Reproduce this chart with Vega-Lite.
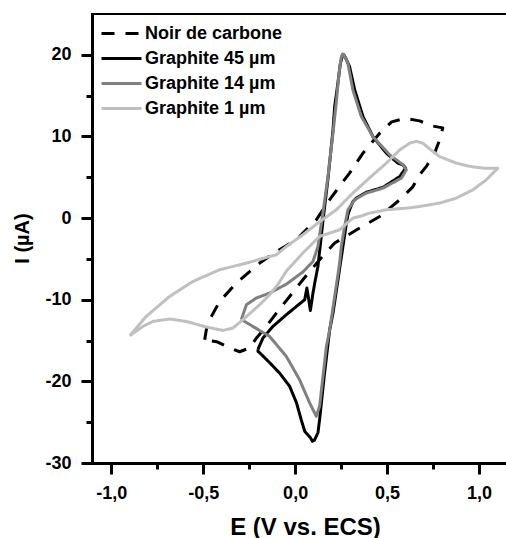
{
  "$schema": "https://vega.github.io/schema/vega-lite/v6.json",
  "width": 414,
  "height": 449,
  "autosize": {"type": "none"},
  "padding": {"left": 92, "top": 14, "right": 0, "bottom": 75},
  "background": "white",
  "config": {
    "view": {"stroke": null, "fill": null},
    "axis": {
      "grid": false,
      "zindex": 1,
      "domainColor": "black",
      "domainWidth": 3,
      "domainCap": "square",
      "tickColor": "black",
      "tickWidth": 3,
      "labelColor": "black",
      "labelFont": "Liberation Sans",
      "labelFontWeight": "bold",
      "labelFontSize": 18,
      "titleFont": "Liberation Sans",
      "titleFontWeight": "bold",
      "titleColor": "black",
      "labelFlush": false,
      "labelOverlap": false,
      "labelBound": false
    },
    "legend": {
      "labelFont": "Liberation Sans",
      "labelFontWeight": "bold",
      "labelFontSize": 18,
      "labelColor": "black",
      "labelLimit": 300
    }
  },
  "layer": [
    {
      "data": {
        "values": [
          {"s": "Noir de carbone", "i": 0, "E": -0.492, "I": -14.9},
          {"s": "Noir de carbone", "i": 1, "E": -0.483, "I": -13.67},
          {"s": "Noir de carbone", "i": 2, "E": -0.465, "I": -12.45},
          {"s": "Noir de carbone", "i": 3, "E": -0.411, "I": -10.21},
          {"s": "Noir de carbone", "i": 4, "E": -0.32, "I": -7.96},
          {"s": "Noir de carbone", "i": 5, "E": -0.193, "I": -5.51},
          {"s": "Noir de carbone", "i": 6, "E": -0.102, "I": -4.09},
          {"s": "Noir de carbone", "i": 7, "E": 0.007, "I": -2.66},
          {"s": "Noir de carbone", "i": 8, "E": 0.115, "I": -0.21},
          {"s": "Noir de carbone", "i": 9, "E": 0.199, "I": 2.61},
          {"s": "Noir de carbone", "i": 10, "E": 0.296, "I": 5.51},
          {"s": "Noir de carbone", "i": 11, "E": 0.369, "I": 7.96},
          {"s": "Noir de carbone", "i": 12, "E": 0.46, "I": 10.4},
          {"s": "Noir de carbone", "i": 13, "E": 0.525, "I": 11.79},
          {"s": "Noir de carbone", "i": 14, "E": 0.596, "I": 12.22},
          {"s": "Noir de carbone", "i": 15, "E": 0.677, "I": 11.91},
          {"s": "Noir de carbone", "i": 16, "E": 0.743, "I": 11.3},
          {"s": "Noir de carbone", "i": 17, "E": 0.803, "I": 11.05},
          {"s": "Noir de carbone", "i": 18, "E": 0.786, "I": 9.58},
          {"s": "Noir de carbone", "i": 19, "E": 0.759, "I": 7.99},
          {"s": "Noir de carbone", "i": 20, "E": 0.716, "I": 6.4},
          {"s": "Noir de carbone", "i": 21, "E": 0.677, "I": 5.3},
          {"s": "Noir de carbone", "i": 22, "E": 0.64, "I": 3.83},
          {"s": "Noir de carbone", "i": 23, "E": 0.569, "I": 2.24},
          {"s": "Noir de carbone", "i": 24, "E": 0.46, "I": 0.2},
          {"s": "Noir de carbone", "i": 25, "E": 0.335, "I": -1.43},
          {"s": "Noir de carbone", "i": 26, "E": 0.215, "I": -3.06},
          {"s": "Noir de carbone", "i": 27, "E": 0.133, "I": -5.1},
          {"s": "Noir de carbone", "i": 28, "E": 0.042, "I": -7.55},
          {"s": "Noir de carbone", "i": 29, "E": -0.03, "I": -9.6},
          {"s": "Noir de carbone", "i": 30, "E": -0.102, "I": -11.63},
          {"s": "Noir de carbone", "i": 31, "E": -0.157, "I": -13.27},
          {"s": "Noir de carbone", "i": 32, "E": -0.209, "I": -14.65},
          {"s": "Noir de carbone", "i": 33, "E": -0.248, "I": -15.91},
          {"s": "Noir de carbone", "i": 34, "E": -0.302, "I": -16.37},
          {"s": "Noir de carbone", "i": 35, "E": -0.356, "I": -15.91},
          {"s": "Noir de carbone", "i": 36, "E": -0.427, "I": -15.14},
          {"s": "Noir de carbone", "i": 37, "E": -0.492, "I": -14.9},

          {"s": "Graphite 45 µm", "i": 0, "E": -0.202, "I": -16.06},
          {"s": "Graphite 45 µm", "i": 1, "E": -0.175, "I": -14.69},
          {"s": "Graphite 45 µm", "i": 2, "E": -0.121, "I": -13.27},
          {"s": "Graphite 45 µm", "i": 3, "E": -0.048, "I": -11.84},
          {"s": "Graphite 45 µm", "i": 4, "E": 0.007, "I": -10.82},
          {"s": "Graphite 45 µm", "i": 5, "E": 0.052, "I": -10.0},
          {"s": "Graphite 45 µm", "i": 6, "E": 0.064, "I": -8.57},
          {"s": "Graphite 45 µm", "i": 7, "E": 0.083, "I": -11.31},
          {"s": "Graphite 45 µm", "i": 8, "E": 0.097, "I": -9.18},
          {"s": "Graphite 45 µm", "i": 9, "E": 0.11, "I": -7.55},
          {"s": "Graphite 45 µm", "i": 10, "E": 0.124, "I": -5.92},
          {"s": "Graphite 45 µm", "i": 11, "E": 0.151, "I": -0.4},
          {"s": "Graphite 45 µm", "i": 12, "E": 0.178, "I": 4.69},
          {"s": "Graphite 45 µm", "i": 13, "E": 0.206, "I": 10.81},
          {"s": "Graphite 45 µm", "i": 14, "E": 0.215, "I": 13.66},
          {"s": "Graphite 45 µm", "i": 15, "E": 0.233, "I": 16.6},
          {"s": "Graphite 45 µm", "i": 16, "E": 0.245, "I": 18.8},
          {"s": "Graphite 45 µm", "i": 17, "E": 0.256, "I": 19.85},
          {"s": "Graphite 45 µm", "i": 18, "E": 0.265, "I": 20.0},
          {"s": "Graphite 45 µm", "i": 19, "E": 0.275, "I": 19.6},
          {"s": "Graphite 45 µm", "i": 20, "E": 0.296, "I": 18.56},
          {"s": "Graphite 45 µm", "i": 21, "E": 0.324, "I": 15.7},
          {"s": "Graphite 45 µm", "i": 22, "E": 0.369, "I": 12.44},
          {"s": "Graphite 45 µm", "i": 23, "E": 0.405, "I": 10.81},
          {"s": "Graphite 45 µm", "i": 24, "E": 0.423, "I": 9.99},
          {"s": "Graphite 45 µm", "i": 25, "E": 0.496, "I": 7.96},
          {"s": "Graphite 45 µm", "i": 26, "E": 0.559, "I": 6.73},
          {"s": "Graphite 45 µm", "i": 27, "E": 0.587, "I": 6.5},
          {"s": "Graphite 45 µm", "i": 28, "E": 0.601, "I": 6.12},
          {"s": "Graphite 45 µm", "i": 29, "E": 0.569, "I": 5.09},
          {"s": "Graphite 45 µm", "i": 30, "E": 0.478, "I": 3.77},
          {"s": "Graphite 45 µm", "i": 31, "E": 0.387, "I": 3.16},
          {"s": "Graphite 45 µm", "i": 32, "E": 0.333, "I": 2.45},
          {"s": "Graphite 45 µm", "i": 33, "E": 0.314, "I": 2.0},
          {"s": "Graphite 45 µm", "i": 34, "E": 0.296, "I": 1.02},
          {"s": "Graphite 45 µm", "i": 35, "E": 0.287, "I": 0.4},
          {"s": "Graphite 45 µm", "i": 36, "E": 0.279, "I": -0.61},
          {"s": "Graphite 45 µm", "i": 37, "E": 0.26, "I": -3.48},
          {"s": "Graphite 45 µm", "i": 38, "E": 0.233, "I": -7.55},
          {"s": "Graphite 45 µm", "i": 39, "E": 0.206, "I": -11.63},
          {"s": "Graphite 45 µm", "i": 40, "E": 0.188, "I": -13.67},
          {"s": "Graphite 45 µm", "i": 41, "E": 0.16, "I": -19.0},
          {"s": "Graphite 45 µm", "i": 42, "E": 0.133, "I": -24.69},
          {"s": "Graphite 45 µm", "i": 43, "E": 0.124, "I": -26.3},
          {"s": "Graphite 45 µm", "i": 44, "E": 0.105, "I": -27.2},
          {"s": "Graphite 45 µm", "i": 45, "E": 0.094, "I": -27.34},
          {"s": "Graphite 45 µm", "i": 46, "E": 0.083, "I": -26.9},
          {"s": "Graphite 45 µm", "i": 47, "E": 0.052, "I": -26.1},
          {"s": "Graphite 45 µm", "i": 48, "E": 0.033, "I": -24.7},
          {"s": "Graphite 45 µm", "i": 49, "E": 0.007, "I": -22.6},
          {"s": "Graphite 45 µm", "i": 50, "E": -0.03, "I": -20.6},
          {"s": "Graphite 45 µm", "i": 51, "E": -0.084, "I": -19.0},
          {"s": "Graphite 45 µm", "i": 52, "E": -0.139, "I": -17.7},
          {"s": "Graphite 45 µm", "i": 53, "E": -0.193, "I": -16.5},
          {"s": "Graphite 45 µm", "i": 54, "E": -0.202, "I": -16.33},
          {"s": "Graphite 45 µm", "i": 55, "E": -0.202, "I": -16.06},

          {"s": "Graphite 14 µm", "i": 0, "E": -0.293, "I": -12.45},
          {"s": "Graphite 14 µm", "i": 1, "E": -0.265, "I": -10.61},
          {"s": "Graphite 14 µm", "i": 2, "E": -0.211, "I": -9.79},
          {"s": "Graphite 14 µm", "i": 3, "E": -0.139, "I": -9.18},
          {"s": "Graphite 14 µm", "i": 4, "E": -0.048, "I": -8.1},
          {"s": "Graphite 14 µm", "i": 5, "E": 0.042, "I": -6.6},
          {"s": "Graphite 14 µm", "i": 6, "E": 0.097, "I": -5.31},
          {"s": "Graphite 14 µm", "i": 7, "E": 0.124, "I": -3.48},
          {"s": "Graphite 14 µm", "i": 8, "E": 0.151, "I": 0.61},
          {"s": "Graphite 14 µm", "i": 9, "E": 0.178, "I": 5.0},
          {"s": "Graphite 14 µm", "i": 10, "E": 0.206, "I": 10.4},
          {"s": "Graphite 14 µm", "i": 11, "E": 0.224, "I": 14.2},
          {"s": "Graphite 14 µm", "i": 12, "E": 0.238, "I": 17.6},
          {"s": "Graphite 14 µm", "i": 13, "E": 0.25, "I": 19.6},
          {"s": "Graphite 14 µm", "i": 14, "E": 0.258, "I": 20.1},
          {"s": "Graphite 14 µm", "i": 15, "E": 0.268, "I": 19.9},
          {"s": "Graphite 14 µm", "i": 16, "E": 0.287, "I": 18.97},
          {"s": "Graphite 14 µm", "i": 17, "E": 0.314, "I": 15.7},
          {"s": "Graphite 14 µm", "i": 18, "E": 0.36, "I": 12.44},
          {"s": "Graphite 14 µm", "i": 19, "E": 0.423, "I": 9.99},
          {"s": "Graphite 14 µm", "i": 20, "E": 0.514, "I": 7.75},
          {"s": "Graphite 14 µm", "i": 21, "E": 0.587, "I": 6.52},
          {"s": "Graphite 14 µm", "i": 22, "E": 0.605, "I": 5.91},
          {"s": "Graphite 14 µm", "i": 23, "E": 0.578, "I": 4.9},
          {"s": "Graphite 14 µm", "i": 24, "E": 0.478, "I": 3.67},
          {"s": "Graphite 14 µm", "i": 25, "E": 0.387, "I": 3.06},
          {"s": "Graphite 14 µm", "i": 26, "E": 0.324, "I": 2.24},
          {"s": "Graphite 14 µm", "i": 27, "E": 0.287, "I": 1.02},
          {"s": "Graphite 14 µm", "i": 28, "E": 0.269, "I": -1.03},
          {"s": "Graphite 14 µm", "i": 29, "E": 0.251, "I": -3.48},
          {"s": "Graphite 14 µm", "i": 30, "E": 0.242, "I": -5.51},
          {"s": "Graphite 14 µm", "i": 31, "E": 0.215, "I": -9.6},
          {"s": "Graphite 14 µm", "i": 32, "E": 0.188, "I": -13.67},
          {"s": "Graphite 14 µm", "i": 33, "E": 0.17, "I": -15.72},
          {"s": "Graphite 14 µm", "i": 34, "E": 0.133, "I": -23.06},
          {"s": "Graphite 14 µm", "i": 35, "E": 0.115, "I": -24.28},
          {"s": "Graphite 14 µm", "i": 36, "E": 0.1, "I": -23.6},
          {"s": "Graphite 14 µm", "i": 37, "E": 0.079, "I": -22.64},
          {"s": "Graphite 14 µm", "i": 38, "E": 0.024, "I": -19.79},
          {"s": "Graphite 14 µm", "i": 39, "E": -0.048, "I": -16.94},
          {"s": "Graphite 14 µm", "i": 40, "E": -0.139, "I": -14.49},
          {"s": "Graphite 14 µm", "i": 41, "E": -0.23, "I": -13.27},
          {"s": "Graphite 14 µm", "i": 42, "E": -0.275, "I": -12.66},
          {"s": "Graphite 14 µm", "i": 43, "E": -0.293, "I": -12.45},

          {"s": "Graphite 1 µm", "i": 0, "E": -0.9, "I": -14.41},
          {"s": "Graphite 1 µm", "i": 1, "E": -0.81, "I": -12.04},
          {"s": "Graphite 1 µm", "i": 2, "E": -0.683, "I": -9.6},
          {"s": "Graphite 1 µm", "i": 3, "E": -0.556, "I": -7.76},
          {"s": "Graphite 1 µm", "i": 4, "E": -0.411, "I": -6.33},
          {"s": "Graphite 1 µm", "i": 5, "E": -0.265, "I": -5.51},
          {"s": "Graphite 1 µm", "i": 6, "E": -0.102, "I": -4.49},
          {"s": "Graphite 1 µm", "i": 7, "E": -0.048, "I": -3.48},
          {"s": "Graphite 1 µm", "i": 8, "E": 0.042, "I": -2.04},
          {"s": "Graphite 1 µm", "i": 9, "E": 0.133, "I": -0.45},
          {"s": "Graphite 1 µm", "i": 10, "E": 0.224, "I": 1.02},
          {"s": "Graphite 1 µm", "i": 11, "E": 0.314, "I": 3.06},
          {"s": "Graphite 1 µm", "i": 12, "E": 0.405, "I": 4.93},
          {"s": "Graphite 1 µm", "i": 13, "E": 0.496, "I": 6.73},
          {"s": "Graphite 1 µm", "i": 14, "E": 0.569, "I": 8.36},
          {"s": "Graphite 1 µm", "i": 15, "E": 0.623, "I": 9.18},
          {"s": "Graphite 1 µm", "i": 16, "E": 0.659, "I": 9.4},
          {"s": "Graphite 1 µm", "i": 17, "E": 0.695, "I": 9.18},
          {"s": "Graphite 1 µm", "i": 18, "E": 0.732, "I": 8.48},
          {"s": "Graphite 1 µm", "i": 19, "E": 0.786, "I": 7.54},
          {"s": "Graphite 1 µm", "i": 20, "E": 0.877, "I": 6.73},
          {"s": "Graphite 1 µm", "i": 21, "E": 0.949, "I": 6.34},
          {"s": "Graphite 1 µm", "i": 22, "E": 1.022, "I": 6.12},
          {"s": "Graphite 1 µm", "i": 23, "E": 1.103, "I": 6.12},
          {"s": "Graphite 1 µm", "i": 24, "E": 1.076, "I": 5.51},
          {"s": "Graphite 1 µm", "i": 25, "E": 1.04, "I": 4.69},
          {"s": "Graphite 1 µm", "i": 26, "E": 0.967, "I": 3.46},
          {"s": "Graphite 1 µm", "i": 27, "E": 0.877, "I": 2.45},
          {"s": "Graphite 1 µm", "i": 28, "E": 0.786, "I": 1.84},
          {"s": "Graphite 1 µm", "i": 29, "E": 0.677, "I": 1.42},
          {"s": "Graphite 1 µm", "i": 30, "E": 0.605, "I": 1.22},
          {"s": "Graphite 1 µm", "i": 31, "E": 0.496, "I": 1.02},
          {"s": "Graphite 1 µm", "i": 32, "E": 0.405, "I": 0.61},
          {"s": "Graphite 1 µm", "i": 33, "E": 0.351, "I": 0.2},
          {"s": "Graphite 1 µm", "i": 34, "E": 0.314, "I": 0.0},
          {"s": "Graphite 1 µm", "i": 35, "E": 0.242, "I": -1.43},
          {"s": "Graphite 1 µm", "i": 36, "E": 0.133, "I": -2.25},
          {"s": "Graphite 1 µm", "i": 37, "E": 0.042, "I": -4.28},
          {"s": "Graphite 1 µm", "i": 38, "E": -0.048, "I": -6.5},
          {"s": "Graphite 1 µm", "i": 39, "E": -0.09, "I": -8.0},
          {"s": "Graphite 1 µm", "i": 40, "E": -0.139, "I": -9.4},
          {"s": "Graphite 1 µm", "i": 41, "E": -0.193, "I": -10.61},
          {"s": "Graphite 1 µm", "i": 42, "E": -0.284, "I": -12.45},
          {"s": "Graphite 1 µm", "i": 43, "E": -0.338, "I": -13.46},
          {"s": "Graphite 1 µm", "i": 44, "E": -0.393, "I": -13.76},
          {"s": "Graphite 1 µm", "i": 45, "E": -0.483, "I": -13.34},
          {"s": "Graphite 1 µm", "i": 46, "E": -0.592, "I": -12.66},
          {"s": "Graphite 1 µm", "i": 47, "E": -0.683, "I": -12.36},
          {"s": "Graphite 1 µm", "i": 48, "E": -0.774, "I": -12.66},
          {"s": "Graphite 1 µm", "i": 49, "E": -0.828, "I": -13.27},
          {"s": "Graphite 1 µm", "i": 50, "E": -0.9, "I": -14.41}
        ]
      },
      "mark": {"type": "line", "strokeWidth": 3, "strokeJoin": "round", "strokeCap": "butt"},
      "encoding": {
        "x": {
          "field": "E",
          "type": "quantitative",
          "scale": {"domain": [-1.105, 1.147], "nice": false, "zero": false},
          "axis": {
            "title": "E (V vs. ECS)",
            "values": [-1, -0.75, -0.5, -0.25, 0, 0.25, 0.5, 0.75, 1],
            "labelExpr": "abs(datum.value*2 - round(datum.value*2)) < 0.001 ? (datum.value < 0 ? '-' : '') + replace(format(abs(datum.value), '.1f'), '.', ',') : ''",
            "tickSize": {"condition": {"test": "abs(datum.value*2 - round(datum.value*2)) < 0.001", "value": 11}, "value": 6},
            "labelPadding": 10,
            "titleFontSize": 24,
            "titleX": 213,
            "titleY": 71,
            "titleAlign": "center",
            "titleBaseline": "alphabetic"
          }
        },
        "y": {
          "field": "I",
          "type": "quantitative",
          "scale": {"domain": [-30, 25], "nice": false, "zero": false},
          "axis": {
            "title": "I (µA)",
            "values": [-30, -25, -20, -15, -10, -5, 0, 5, 10, 15, 20],
            "labelExpr": "datum.value % 10 == 0 ? (datum.value < 0 ? '-' : '') + abs(datum.value) : ''",
            "tickSize": {"condition": {"test": "datum.value % 10 == 0", "value": 11}, "value": 6},
            "domainWidth": 3,
            "domainColor": "black",
            "tickWidth": 3,
            "tickColor": "black",
            "labelPadding": 10,
            "titleFontSize": 20,
            "titleAngle": 270,
            "titleX": -63.7,
            "titleY": 224,
            "titleAlign": "center",
            "titleBaseline": "alphabetic"
          }
        },
        "color": {
          "field": "s",
          "type": "nominal",
          "scale": {
            "domain": ["Noir de carbone", "Graphite 45 µm", "Graphite 14 µm", "Graphite 1 µm"],
            "range": ["#000000", "#000000", "#808080", "#c0c0c0"]
          },
          "legend": {
            "title": null,
            "orient": "none",
            "legendX": 18,
            "legendY": 8,
            "symbolType": "M-2,0H2",
            "symbolSize": 400,
            "symbolStrokeWidth": 3,
            "labelOffset": 12,
            "rowPadding": 4,
            "padding": 0
          }
        },
        "strokeDash": {
          "field": "s",
          "type": "nominal",
          "scale": {
            "domain": ["Noir de carbone", "Graphite 45 µm", "Graphite 14 µm", "Graphite 1 µm"],
            "range": [[13, 11], [1, 0], [1, 0], [1, 0]]
          },
          "legend": {
            "title": null,
            "orient": "none",
            "legendX": 18,
            "legendY": 8,
            "symbolType": "M-2,0H2",
            "symbolSize": 400,
            "symbolStrokeWidth": 3,
            "labelOffset": 12,
            "rowPadding": 4,
            "padding": 0
          }
        },
        "order": {"field": "i", "type": "quantitative"}
      }
    },
    {
      "data": {"values": [{}]},
      "mark": {"type": "rule", "strokeWidth": 2, "color": "black"},
      "encoding": {
        "y": {
          "datum": 25,
          "type": "quantitative",
          "scale": {"domain": [-30, 25], "nice": false, "zero": false},
          "axis": {
            "title": "I (µA)",
            "values": [-30, -25, -20, -15, -10, -5, 0, 5, 10, 15, 20],
            "labelExpr": "datum.value % 10 == 0 ? (datum.value < 0 ? '-' : '') + abs(datum.value) : ''",
            "tickSize": {"condition": {"test": "datum.value % 10 == 0", "value": 11}, "value": 6},
            "domainWidth": 3,
            "domainColor": "black",
            "tickWidth": 3,
            "tickColor": "black",
            "labelPadding": 10,
            "titleFontSize": 20,
            "titleAngle": 270,
            "titleX": -63.7,
            "titleY": 224,
            "titleAlign": "center",
            "titleBaseline": "alphabetic"
          }
        }
      }
    }
  ]
}
